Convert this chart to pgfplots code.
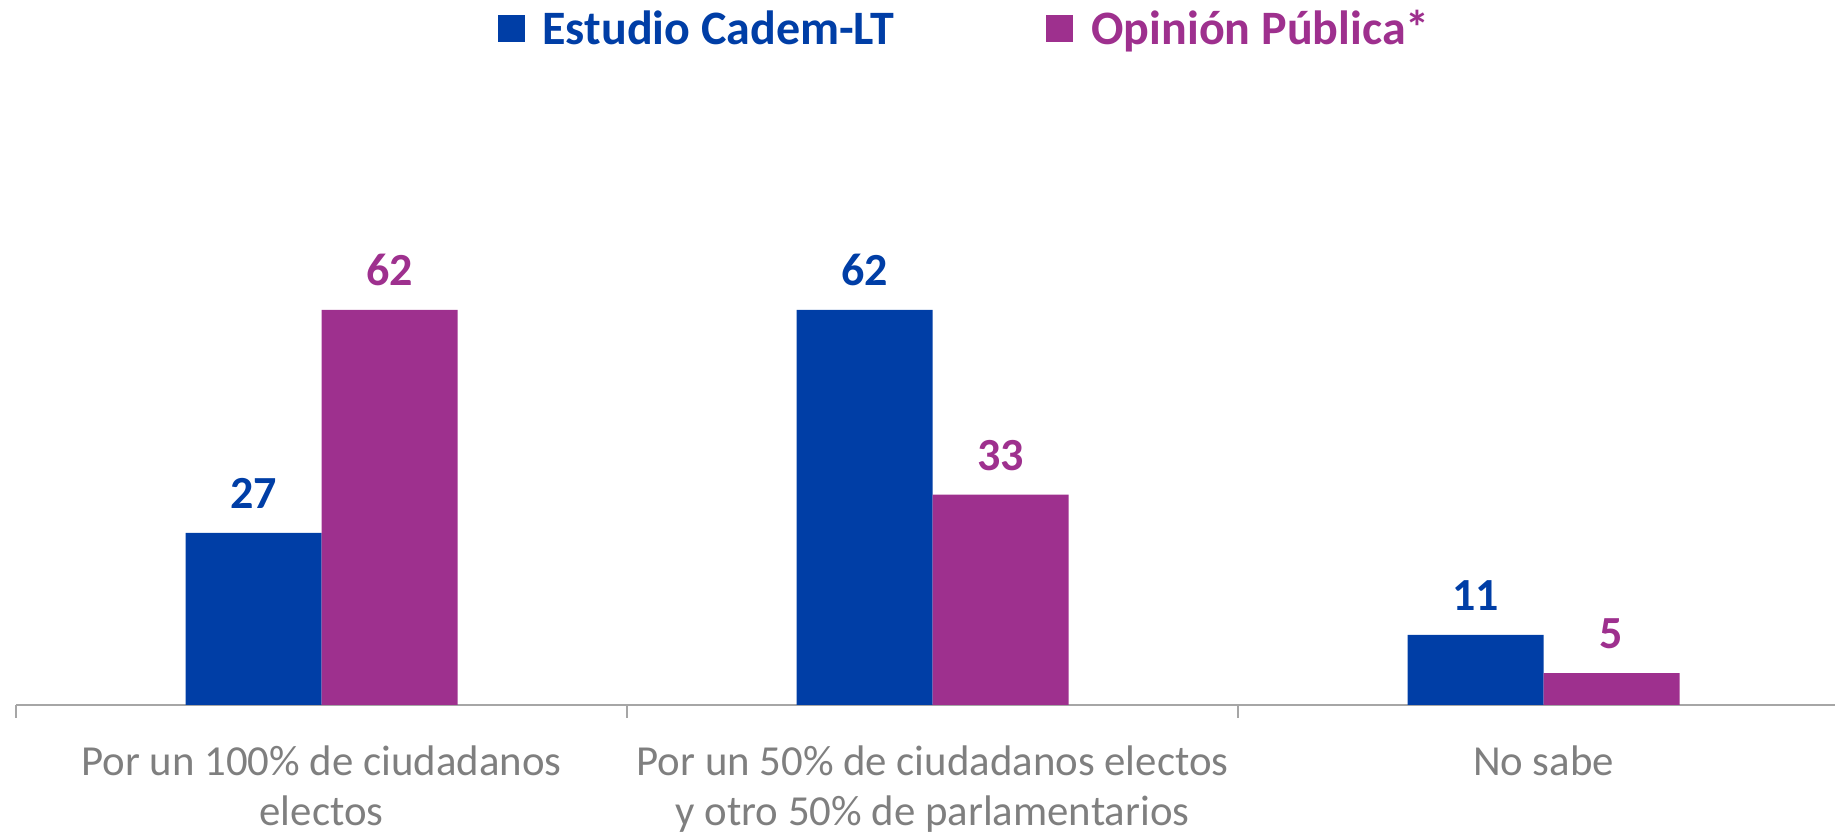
\documentclass[border=0pt]{standalone}
\usepackage{pgfplots}
\pgfplotsset{compat=1.18}
\usepackage{fontspec}
\setmainfont{Carlito}
\definecolor{cblue}{RGB}{0,62,166}
\definecolor{cmag}{RGB}{158,48,142}
\definecolor{cgray}{RGB}{127,127,127}
\definecolor{axgray}{RGB}{166,166,166}
\begin{document}
\begin{tikzpicture}
\useasboundingbox (0,0) rectangle (917.5pt,417pt);
\begin{axis}[
  at={(8pt,64.5pt)}, anchor=south west,
  scale only axis, width=909.5pt, height=223pt,
  xmin=-0.5, xmax=2.477, ymin=0, ymax=70,
  ybar, bar width=68pt,
  axis y line=none,
  axis x line*=bottom,
  x axis line style={axgray, line width=0.8pt, -},
  xtick={0,1,2},
  xticklabels={Por un 100\% de ciudadanos\\electos, Por un 50\% de ciudadanos electos\\y otro 50\% de parlamentarios, No sabe},
  major tick length=0pt,
  extra x ticks={-0.5,0.5,1.5},
  extra x tick labels={},
  extra x tick style={major tick length=6.5pt, tick style={axgray, line width=0.8pt}, tick align=outside},
  xticklabel style={font=\fontsize{21.4}{25}\selectfont, text=cgray, align=center, yshift=-17pt},
  /pgf/number format/assume math mode=true,
  nodes near coords,
  nodes near coords style={font=\bfseries\fontsize{23}{26}\selectfont, anchor=south, yshift=8.5pt},
  legend style={at={(0.522,1.516)}, anchor=center, draw=none, legend columns=2, font=\bfseries\fontsize{24}{28}\selectfont, column sep=7pt, /tikz/every even column/.append style={column sep=74pt}},
  legend image code/.code={\fill[#1] (0pt,-6.75pt) rectangle (13.5pt,6.75pt);},
]
\addplot[fill=cblue, draw=none, bar shift=-34pt, nodes near coords style={text=cblue}] coordinates {(0,27) (1,62) (2,11)};
\addplot[fill=cmag, draw=none, bar shift=34pt, nodes near coords style={text=cmag}] coordinates {(0,62) (1,33) (2,5)};
\legend{\textcolor{cblue}{Estudio Cadem-LT}, \textcolor{cmag}{Opinión Pública*}}
\end{axis}
\end{tikzpicture}
\end{document}
